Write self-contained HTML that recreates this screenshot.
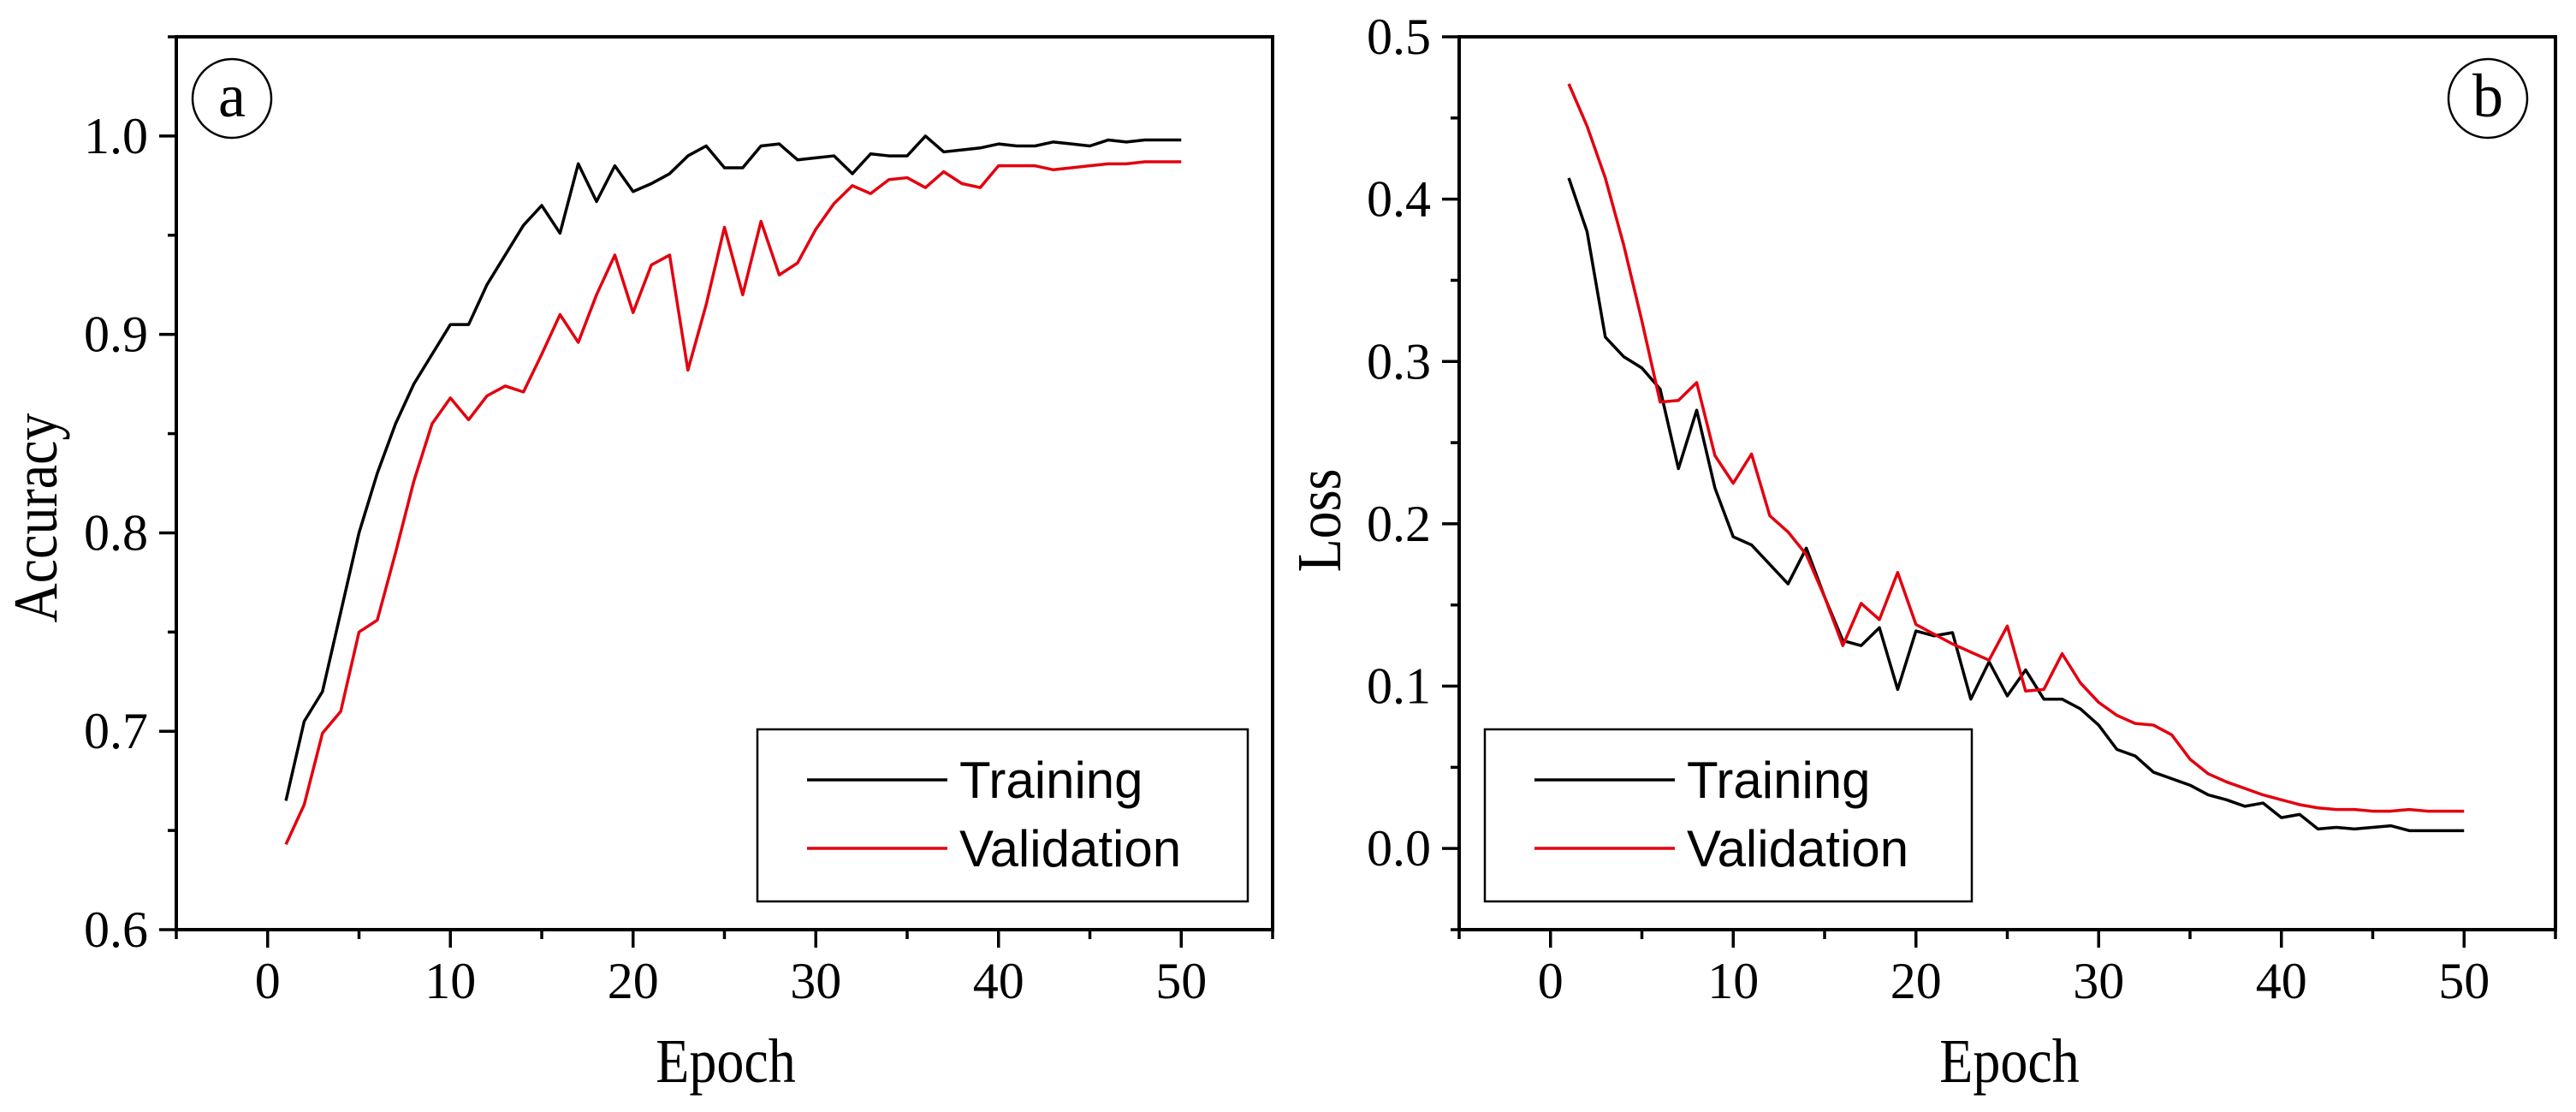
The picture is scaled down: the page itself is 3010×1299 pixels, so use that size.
<!DOCTYPE html>
<html><head><meta charset="utf-8">
<style>
html,body{margin:0;padding:0;background:#fff;}
svg{display:block;}
</style></head>
<body>
<svg id="fig" width="3010" height="1299" viewBox="0 0 3010 1299" xmlns="http://www.w3.org/2000/svg">
<rect width="3010" height="1299" fill="#fff"/>
</svg>
<script>
const epochs = Array.from({length:50},(_, i)=>i+1);
const accTrain = [0.665,0.705,0.72,0.76,0.80,0.83,0.855,0.875,0.89,0.905,0.905,0.925,0.94,0.955,0.965,0.951,0.986,0.967,0.985,0.972,0.976,0.981,0.99,0.995,0.984,0.984,0.995,0.996,0.988,0.989,0.99,0.981,0.991,0.99,0.99,1.0,0.992,0.993,0.994,0.996,0.995,0.995,0.997,0.996,0.995,0.998,0.997,0.998,0.998,0.998];
const accVal = [0.643,0.663,0.699,0.71,0.75,0.756,0.79,0.826,0.855,0.868,0.857,0.869,0.874,0.871,0.89,0.91,0.896,0.92,0.94,0.911,0.935,0.94,0.882,0.915,0.954,0.92,0.957,0.93,0.936,0.953,0.966,0.975,0.971,0.978,0.979,0.974,0.982,0.976,0.974,0.985,0.985,0.985,0.983,0.984,0.985,0.986,0.986,0.987,0.987,0.987];
const lossTrain = [0.413,0.38,0.315,0.303,0.296,0.283,0.234,0.27,0.222,0.192,0.187,0.175,0.163,0.185,0.155,0.128,0.125,0.136,0.098,0.134,0.131,0.133,0.092,0.115,0.094,0.11,0.092,0.092,0.086,0.076,0.061,0.057,0.047,0.043,0.039,0.033,0.03,0.026,0.028,0.019,0.021,0.012,0.013,0.012,0.013,0.014,0.011,0.011,0.011,0.011];
const lossVal = [0.471,0.445,0.413,0.372,0.325,0.275,0.276,0.287,0.242,0.225,0.243,0.205,0.195,0.181,0.155,0.125,0.151,0.141,0.17,0.138,0.132,0.126,0.121,0.116,0.137,0.097,0.098,0.12,0.102,0.09,0.082,0.077,0.076,0.07,0.055,0.046,0.041,0.037,0.033,0.03,0.027,0.025,0.024,0.024,0.023,0.023,0.024,0.023,0.023,0.023];
const xTicks = [0,10,20,30,40,50];
const accTicks = ["0.6","0.7","0.8","0.9","1.0"];
const lossTicks = ["0.0","0.1","0.2","0.3","0.4","0.5"];

const NS="http://www.w3.org/2000/svg";
const svg=document.getElementById('fig');
function mk(tag,attrs,parent){const e=document.createElementNS(NS,tag);for(const k in attrs)e.setAttribute(k,attrs[k]);(parent||svg).appendChild(e);return e;}

function panel(cfg){
  const g=mk('g',{});
  
  
  const L=cfg.left,R=cfg.right,T=43,B=1086;
  const xs=v=>L+(v-(-5))/(60)*(R-L);
  const ys=v=>B-(v-cfg.ymin)/(cfg.ymax-cfg.ymin)*(B-T);
  for(let v=-5;v<=55;v+=5){
    const major=(v%10===0);
    const t=mk('line',{x1:xs(v),x2:xs(v),y1:B,y2:B+(major?21:11),stroke:'#000','stroke-width':3.5},g);
    
    
  }
  xTicks.forEach(v=>{
    const t=mk('text',{x:xs(v),y:1166,'text-anchor':'middle','font-family':'"Liberation Serif",serif','font-size':60,fill:'#000'},g);
    t.textContent=String(v);
    
    
  });
  const steps=Math.round((cfg.ymax-cfg.ymin)/0.05);
  for(let i=0;i<=steps;i++){
    const v=cfg.ymin+i*0.05;
    const major=cfg.majors.some(m=>Math.abs(parseFloat(m)-v)<1e-6);
    const t=mk('line',{x1:L-(major?20:10),x2:L,y1:ys(v),y2:ys(v),stroke:'#000','stroke-width':3.5},g);
    
    
  }
  cfg.majors.forEach(s=>{
    const t=mk('text',{x:L-33,y:ys(parseFloat(s))+20,'text-anchor':'end','font-family':'"Liberation Serif",serif','font-size':60,fill:'#000'},g);
    t.textContent=s;
    
    
  });
  const f=mk('rect',{x:L,y:T,width:R-L,height:B-T,fill:'none',stroke:'#000','stroke-width':4},g);
  
  
  const line=(arr,color,name)=>{
    const p=mk('polyline',{points:arr.map((v,i)=>xs(epochs[i])+','+ys(v)).join(' '),fill:'none',stroke:color,'stroke-width':3.5,'stroke-linejoin':'round'},g);
    
    
  };
  line(cfg.train,'#000','training-line');
  line(cfg.val,'#e3000f','validation-line');
  const xt=mk('text',{x:0,y:0,'text-anchor':'middle','font-family':'"Liberation Serif",serif','font-size':64,fill:'#000',transform:`translate(${cfg.xtX},1264) scale(1,1.15)`},g);
  xt.textContent='Epoch';
  
  
  const yt=mk('text',{x:0,y:0,'text-anchor':'middle','font-family':'"Liberation Serif",serif','font-size':64,fill:'#000',transform:`translate(${cfg.ytX},${cfg.ytY}) rotate(-90) scale(1,1.15)`},g);
  yt.textContent=cfg.ytitle;
  
  
  const c=mk('circle',{cx:cfg.cx,cy:115,r:46,fill:'none',stroke:'#000','stroke-width':2.5},g);
  
  
  const lt=mk('text',{x:cfg.cx,y:136,'text-anchor':'middle','font-family':'"Liberation Serif",serif','font-size':72,fill:'#000'},g);
  lt.textContent=cfg.letter;
  
  
  const lg=mk('g',{},g);
  
  
  mk('rect',{x:cfg.lgL,y:852,width:cfg.lgW,height:201,fill:'#fff',stroke:'#000','stroke-width':2.5},lg);
  [['Training','#000',911],['Validation','#e3000f',991]].forEach(([n,col,y])=>{
    const e=mk('g',{},lg);
    
    
    mk('line',{x1:cfg.lgL+58,x2:cfg.lgL+222,y1:y,y2:y,stroke:col,'stroke-width':3.5},e);
    const t=mk('text',{x:cfg.lgL+236,y:y+21,'font-family':'"Liberation Sans",sans-serif','font-size':60,fill:'#000'},e);
    t.textContent=n;
  });
}
panel({name:'accuracy-chart',left:206,right:1487,ymin:0.6,ymax:1.05,majors:accTicks,train:accTrain,val:accVal,
  xtX:848,ytX:66,ytY:605,ytitle:'Accuracy',cx:271,letter:'a',lgL:885,lgW:573});
panel({name:'loss-chart',left:1705,right:2986,ymin:-0.05,ymax:0.5,majors:lossTicks,train:lossTrain,val:lossVal,
  xtX:2348,ytX:1566,ytY:608,ytitle:'Loss',cx:2907,letter:'b',lgL:1735,lgW:569});
</script>
</body></html>
